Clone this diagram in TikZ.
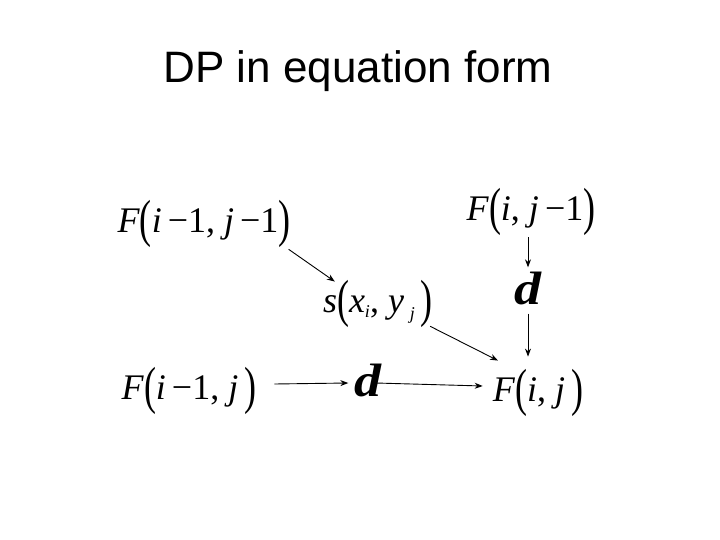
\documentclass[tikz,border=0pt]{standalone}
\usepackage{fontspec}
\usepackage{graphicx}
\setmainfont{Liberation Serif}
\newfontfamily\titlefont{Liberation Sans}
\usetikzlibrary{arrows.meta}
\newcommand{\lpar}{\raisebox{-4pt}{\scalebox{1}[1.45]{(}}}
\newcommand{\rpar}{\raisebox{-4pt}{\scalebox{1}[1.45]{)}}}
\newcommand{\dd}{\scalebox{1.5}[1.3]{\bfseries\itshape d}}
\begin{document}
\begin{tikzpicture}[x=1pt,y=-1pt,
  term/.style={inner sep=0pt,anchor=base,font=\fontsize{36}{40}\selectfont},
  arr/.style={-{Stealth[length=8pt,width=6pt]},line width=0.9pt}]
\useasboundingbox (0,0) rectangle (720,540);
\node[anchor=base,inner sep=0pt,font=\titlefont\fontsize{44}{50}\selectfont] (title) at (358,83) {DP in equation form};

\node[term] (fmm) at (204,233) {\textit{F}\lpar\textit{i}\,−1, \textit{j}\,−1\rpar};
\node[term] (fzm) at (531,221) {\textit{F}\lpar\textit{i}, \textit{j}\,−1\rpar};
\node[term] (sxy) at (378,312) {\textit{s}\lpar\textit{x}\raisebox{-5pt}{\fontsize{18}{20}\selectfont\textit{i}}, \textit{y}\,\raisebox{-7pt}{\fontsize{18}{20}\selectfont\textit{j}}\,\rpar};
\node[term] (dup) at (528,304) {\dd};
\node[term] (fmz) at (189,399) {\textit{F}\lpar\textit{i}\,−1, \textit{j}\,\rpar};
\node[term] (dlo) at (368,396) {\dd};
\node[term] (fzz) at (538,401) {\textit{F}\lpar\textit{i}, \textit{j}\,\rpar};

\draw[arr] ([xshift=-2pt,yshift=-1pt]fmm.south east) -- ([xshift=12pt,yshift=-2pt]sxy.north west);
\draw[arr] ([yshift=-1pt]fzm.south -| dup) -- ([yshift=4pt]dup.north);
\draw[arr] ([yshift=-9pt]dup.south) -- ([yshift=12pt]fzz.north -| dup);
\draw[arr] ([xshift=-3pt,yshift=1pt]sxy.south east) -- ([xshift=-40pt,yshift=8pt]fzz.north);
\draw[arr] ([xshift=18pt,yshift=15pt]fmz.base east) -- ([xshift=-6pt,yshift=13pt]dlo.base west);
\draw[arr] ([xshift=-6pt,yshift=13pt]dlo.base east) -- ([xshift=-10pt,yshift=15pt]fzz.base west);
\end{tikzpicture}
\end{document}
